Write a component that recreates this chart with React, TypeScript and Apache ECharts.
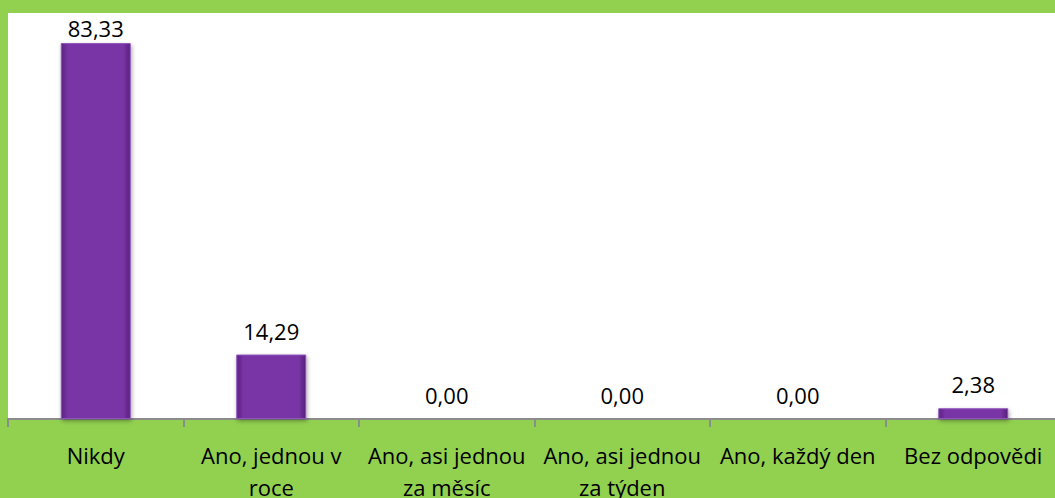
import React, { useEffect, useRef } from "react";
import * as echarts from "echarts";

const categories = [
  "Nikdy",
  "Ano, jednou v\nroce",
  "Ano, asi jednou\nza měsíc",
  "Ano, asi jednou\nza týden",
  "Ano, každý den",
  "Bez odpovědi",
];
const values = [83.33, 14.29, 0.0, 0.0, 0.0, 2.38];
const yMax = 90;

export default function App() {
  const ref = useRef<HTMLDivElement>(null);
  useEffect(() => {
    document.body.style.margin = "0";
    const chart = echarts.init(ref.current!, null, { renderer: "svg" });
    const barGradient = new echarts.graphic.LinearGradient(0, 0, 1, 0, [
      { offset: 0, color: "#5C2382" },
      { offset: 0.1, color: "#7934A6" },
      { offset: 0.9, color: "#7934A6" },
      { offset: 1, color: "#55207A" },
    ]);
    chart.setOption({
      animation: false,
      backgroundColor: "#92D050",
      textStyle: { fontFamily: "Open Sans" },
      grid: {
        left: 8,
        top: 13,
        width: 1053,
        height: 406,
        outerBoundsMode: "none",
        containLabel: false,
        show: true,
        backgroundColor: "#ffffff",
        borderWidth: 0,
      },
      xAxis: {
        type: "category",
        data: categories,
        axisLine: { lineStyle: { color: "#8C8C8C", width: 2 } },
        axisTick: { show: true, length: 8, lineStyle: { color: "#8C8C8C", width: 2 } },
        axisLabel: {
          interval: 0,
          color: "#000000",
          fontSize: 22,
          lineHeight: 32,
          margin: 20,
          fontFamily: "Open Sans",
        },
      },
      yAxis: {
        type: "value",
        min: 0,
        max: yMax,
        show: false,
        splitLine: { show: false },
      },
      series: [
        {
          type: "bar",
          barWidth: 70,
          data: values.map((v, i) => ({
            value: v,
            label: { distance: i === 0 ? 4 : 13 },
          })),
          itemStyle: {
            color: barGradient,
            borderColor: "#8E55BC",
            borderWidth: 1,
            shadowColor: "rgba(0,0,0,0.35)",
            shadowBlur: 4,
            shadowOffsetX: 1,
            shadowOffsetY: 2,
          },
          label: {
            show: true,
            position: "top",
            color: "#000000",
            fontSize: 22,
            fontFamily: "Open Sans",
            formatter: (p: any) => Number(p.value).toFixed(2).replace(".", ","),
          },
        },
      ],
    });
    return () => chart.dispose();
  }, []);
  return <div ref={ref} style={{ width: 1055, height: 498 }} />;
}
